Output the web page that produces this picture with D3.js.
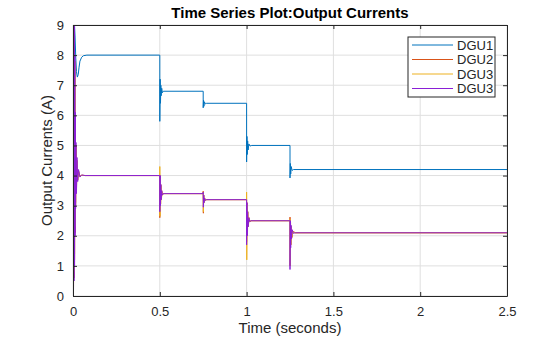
<!DOCTYPE html>
<head>
  <meta charset="utf-8">
  <title>Output Currents</title>
  <script src="https://d3js.org/d3.v7.min.js"></script>
  <style>
    body { margin: 0; background: #fff; font-family: "Liberation Sans", Arial, sans-serif; }
    .axis text { font-family: "Liberation Sans", Arial, sans-serif; font-size: 13px; fill: #262626; }
    .axis path, .axis line { stroke: #262626; }
  </style>
</head>
<body>
  <div id="chart"></div>
  <script>
    // tick values
    var xTicks = [0, 0.5, 1, 1.5, 2, 2.5];
    var yTicks = [0, 1, 2, 3, 4, 5, 6, 7, 8, 9];

    // series: [time (s), current (A)]
    var dgu1 = [[0, 9.6], [0.004, 9.4], [0.008, 9.1], [0.012, 8.6], [0.016, 7.9], [0.02, 7.45],
      [0.025, 7.27], [0.03, 7.35], [0.035, 7.6], [0.04, 7.8], [0.05, 7.93], [0.06, 7.98], [0.08, 8.0],
      [0.5, 8.0], [0.5, 5.8], [0.502, 7.2], [0.504, 6.4], [0.506, 7.0], [0.508, 6.65], [0.511, 6.9],
      [0.515, 6.75], [0.52, 6.8], [0.75, 6.8], [0.75, 6.25], [0.752, 6.5], [0.754, 6.3], [0.757, 6.45],
      [0.762, 6.38], [0.77, 6.4], [1.0, 6.4], [1.0, 4.45], [1.002, 5.3], [1.004, 4.7], [1.006, 5.15],
      [1.009, 4.85], [1.013, 5.05], [1.02, 4.98], [1.03, 5.0], [1.25, 5.0], [1.25, 3.92], [1.252, 4.4],
      [1.254, 4.05], [1.257, 4.3], [1.262, 4.17], [1.27, 4.2], [2.5, 4.2]];

    var dgu2 = [[0, 0], [0.0015, 9.4], [0.003, 0.3], [0.0045, 9.1], [0.006, 0.6], [0.0075, 8.8], [0.009, 1.2],
      [0.0105, 7.8], [0.012, 2.1], [0.0135, 6.0], [0.015, 3.0], [0.017, 5.0], [0.02, 3.5], [0.023, 4.5],
      [0.027, 3.85], [0.032, 4.15], [0.04, 3.97], [0.05, 4.01], [0.07, 4.0], [0.5, 4.0], [0.5, 2.6],
      [0.502, 4.0], [0.504, 3.0], [0.506, 3.7], [0.508, 3.2], [0.511, 3.5], [0.515, 3.35], [0.52, 3.4],
      [0.75, 3.4], [0.75, 3.48], [0.751, 2.75], [0.753, 3.35], [0.755, 3.1], [0.758, 3.25], [0.762, 3.18],
      [0.77, 3.2], [1.0, 3.2], [1.0, 1.8], [1.002, 3.1], [1.004, 2.0], [1.006, 2.8], [1.009, 2.3],
      [1.013, 2.6], [1.018, 2.47], [1.025, 2.5], [1.25, 2.5], [1.25, 2.62], [1.251, 1.0], [1.253, 2.45],
      [1.255, 1.7], [1.258, 2.3], [1.262, 1.95], [1.267, 2.15], [1.28, 2.1], [2.5, 2.1]];

    var dgu3 = [[0, 0], [0.0015, 9.3], [0.003, 0.4], [0.0045, 9.0], [0.006, 0.8], [0.0075, 8.6], [0.009, 1.4],
      [0.0105, 7.6], [0.012, 2.3], [0.0135, 5.9], [0.015, 3.1], [0.017, 4.9], [0.02, 3.6], [0.023, 4.5],
      [0.027, 3.85], [0.032, 4.15], [0.04, 3.97], [0.05, 4.01], [0.07, 4.0], [0.5, 4.0], [0.5, 4.3],
      [0.501, 2.65], [0.503, 3.9], [0.505, 3.05], [0.507, 3.65], [0.51, 3.25], [0.514, 3.45], [0.52, 3.4],
      [0.75, 3.4], [0.75, 3.45], [0.751, 2.8], [0.753, 3.35], [0.755, 3.1], [0.758, 3.25], [0.762, 3.18],
      [0.77, 3.2], [1.0, 3.2], [1.0, 3.45], [1.001, 1.2], [1.003, 3.0], [1.005, 2.0], [1.007, 2.8],
      [1.01, 2.3], [1.014, 2.6], [1.02, 2.47], [1.025, 2.5], [1.25, 2.5], [1.25, 2.55], [1.251, 1.0],
      [1.253, 2.45], [1.255, 1.7], [1.258, 2.3], [1.262, 1.95], [1.267, 2.15], [1.28, 2.1], [2.5, 2.1]];

    var dgu4 = [[0, 0], [0.0015, 9.5], [0.003, 0.2], [0.0045, 9.3], [0.006, 0.5], [0.0075, 9.0], [0.009, 1.0],
      [0.0105, 8.0], [0.012, 2.0], [0.0135, 6.1], [0.015, 2.9], [0.017, 5.1], [0.02, 3.4], [0.023, 4.6],
      [0.027, 3.8], [0.032, 4.2], [0.04, 3.95], [0.05, 4.02], [0.07, 4.0], [0.5, 4.0], [0.5, 2.8],
      [0.502, 4.0], [0.504, 3.0], [0.506, 3.7], [0.508, 3.2], [0.511, 3.5], [0.515, 3.35], [0.52, 3.4],
      [0.75, 3.4], [0.75, 3.45], [0.751, 2.95], [0.753, 3.35], [0.755, 3.1], [0.758, 3.25], [0.762, 3.18],
      [0.77, 3.2], [1.0, 3.2], [1.0, 1.7], [1.002, 3.1], [1.004, 2.0], [1.006, 2.8], [1.009, 2.3],
      [1.013, 2.6], [1.018, 2.47], [1.025, 2.5], [1.25, 2.5], [1.25, 0.88], [1.252, 2.5], [1.254, 1.6],
      [1.256, 2.35], [1.259, 1.9], [1.263, 2.2], [1.27, 2.08], [1.28, 2.1], [2.5, 2.1]];

    var seriesNames = ['DGU1', 'DGU2', 'DGU3', 'DGU3'];
    var seriesColors = ['#0072bd', '#d95319', '#edb120', '#8a1fd6'];
    var seriesData = [dgu1, dgu2, dgu3, dgu4];

    var margin = { top: 25, right: 53, bottom: 41, left: 73 };
    var width = 560 - margin.left - margin.right;
    var height = 337 - margin.top - margin.bottom;

    var xScale = d3.scaleLinear().domain([0, 2.5]).range([0, width]);
    var yScale = d3.scaleLinear().domain([0, 9]).range([height, 0]);

    var svg = d3.select('#chart')
      .append('svg')
        .attr('width', 560)
        .attr('height', 337);

    var group = svg.append('g')
      .attr('transform', 'translate(' + margin.left + ',' + margin.top + ')');

    // Gitterlinien
    group.append('g')
      .selectAll('line')
      .data(xTicks)
      .enter()
      .append('line')
        .attr('x1', function (d) { return xScale(d); })
        .attr('x2', function (d) { return xScale(d); })
        .attr('y1', 0)
        .attr('y2', height)
        .attr('stroke', '#dfdfdf');

    group.append('g')
      .selectAll('line')
      .data(yTicks)
      .enter()
      .append('line')
        .attr('x1', 0)
        .attr('x2', width)
        .attr('y1', function (d) { return yScale(d); })
        .attr('y2', function (d) { return yScale(d); })
        .attr('stroke', '#dfdfdf');

    // Datenlinien, auf die Achsenfläche beschnitten
    svg.append('clipPath')
        .attr('id', 'clip')
      .append('rect')
        .attr('width', width)
        .attr('height', height);

    var line = d3.line()
      .x(function (d) { return xScale(d[0]); })
      .y(function (d) { return yScale(d[1]); });

    group.append('g')
        .attr('clip-path', 'url(#clip)')
      .selectAll('path')
      .data(seriesData)
      .enter()
      .append('path')
        .attr('d', line)
        .attr('fill', 'none')
        .attr('stroke', function (d, i) { return seriesColors[i]; })
        .attr('stroke-width', 1);

    // Achsen mit nach innen zeigenden Ticks
    var fmt = function (d) { return String(d); };

    group.append('g')
        .attr('class', 'axis')
        .attr('transform', 'translate(0,' + height + ')')
        .call(d3.axisBottom(xScale).tickValues(xTicks).tickFormat(fmt).tickSize(-4).tickSizeOuter(0).tickPadding(11));

    group.append('g')
        .attr('class', 'axis')
        .call(d3.axisLeft(yScale).tickValues(yTicks).tickFormat(fmt).tickSize(-4).tickSizeOuter(0).tickPadding(9));

    group.append('g')
        .attr('class', 'axis')
        .call(d3.axisTop(xScale).tickValues(xTicks).tickFormat('').tickSize(-4).tickSizeOuter(0));

    group.append('g')
        .attr('class', 'axis')
        .attr('transform', 'translate(' + width + ',0)')
        .call(d3.axisRight(yScale).tickValues(yTicks).tickFormat('').tickSize(-4).tickSizeOuter(0));

    // Titel und Achsenbeschriftungen
    svg.append('text')
      .attr('x', margin.left + width / 2)
      .attr('y', 18)
      .attr('text-anchor', 'middle')
      .style('font-size', '15px')
      .style('font-weight', 'bold')
      .attr('fill', '#000')
      .text('Time Series Plot:Output Currents');

    svg.append('text')
      .attr('x', margin.left + width / 2)
      .attr('y', 333)
      .attr('text-anchor', 'middle')
      .style('font-size', '15px')
      .attr('fill', '#262626')
      .text('Time (seconds)');

    svg.append('text')
      .attr('transform', 'translate(52,' + (margin.top + height / 2) + ') rotate(-90)')
      .attr('text-anchor', 'middle')
      .style('font-size', '15px')
      .attr('fill', '#262626')
      .text('Output Currents (A)');

    // Legende
    var legend = svg.append('g')
      .attr('transform', 'translate(408,37)');

    legend.append('rect')
      .attr('width', 87)
      .attr('height', 60)
      .attr('fill', '#fff')
      .attr('stroke', '#262626');

    var items = legend.selectAll('g.item')
      .data(seriesNames)
      .enter()
      .append('g')
        .attr('class', 'item')
        .attr('transform', function (d, i) { return 'translate(0,' + (8 + i * 14.5) + ')'; });

    items.append('line')
      .attr('x1', 4)
      .attr('x2', 45)
      .attr('stroke', function (d, i) { return seriesColors[i]; });

    items.append('text')
      .attr('x', 49)
      .attr('dy', '0.35em')
      .style('font-size', '13px')
      .attr('fill', '#262626')
      .text(function (d) { return d; });
  </script>
</body>
